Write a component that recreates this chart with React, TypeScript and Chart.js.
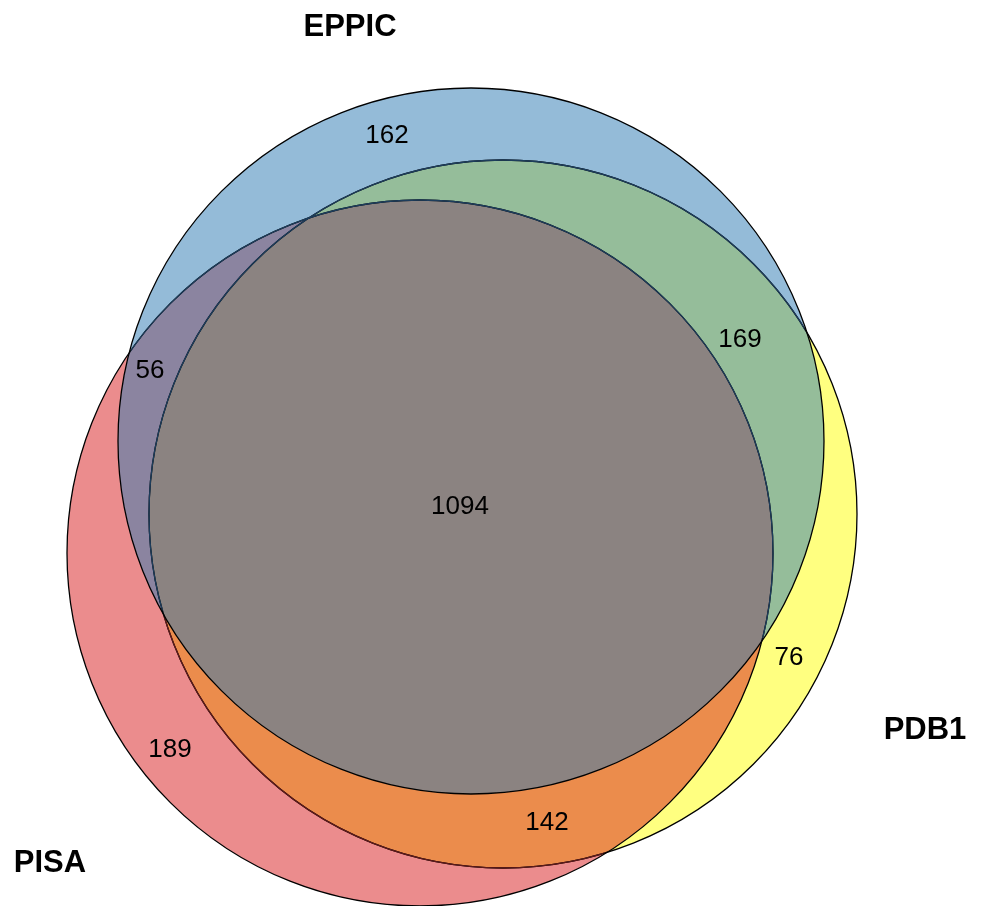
import React, { useEffect, useRef } from "react";
import { Chart, registerables } from "chart.js";

Chart.register(...registerables);

// ---- data ----
const setNames = ["EPPIC", "PISA", "PDB1"];
// region masks: EPPIC=1, PISA=2, PDB1=4
const regionMasks = [1, 2, 4, 3, 5, 6, 7];
const regionCounts = [162, 189, 76, 56, 169, 142, 1094];

// ---- layout (circle geometry in chart units) ----
const circleCX = [471, 420, 503];
const circleCY = [441, 553, 514];
const circleR = [353, 353, 354];
const setLabelX = [350, 50, 925];
const setLabelY = [27, 863, 730];
const regionLabelX = [387, 170, 789, 150, 740, 547, 460];
const regionLabelY = [136, 750, 658, 371, 340, 823, 507];
const regionColors: Record<number, string> = {
  1: "#94bbd8",
  2: "#eb8c8d",
  4: "#ffff80",
  3: "#8b84a0",
  5: "#95bd9a",
  6: "#eb8c4c",
  7: "#8b8381",
};

const W = 984;
const H = 906;

const vennPlugin = {
  id: "venn",
  beforeDatasetsDraw(chart: any) {
    const ctx: CanvasRenderingContext2D = chart.ctx;
    const xs = chart.scales.x;
    const ys = chart.scales.y;
    const circles = circleCX.map((cx, i) => {
      const px = xs.getPixelForValue(cx);
      const py = ys.getPixelForValue(circleCY[i]);
      const r = Math.abs(xs.getPixelForValue(cx + circleR[i]) - px);
      return { px, py, r };
    });
    const big = { x: -10, y: -10, w: chart.width + 20, h: chart.height + 20 };

    const circlePath = (i: number) => {
      const c = circles[i];
      ctx.beginPath();
      ctx.arc(c.px, c.py, c.r, 0, Math.PI * 2);
    };
    const clipIn = (i: number) => {
      circlePath(i);
      ctx.clip();
    };
    const clipOut = (i: number) => {
      const c = circles[i];
      ctx.beginPath();
      ctx.rect(big.x, big.y, big.w, big.h);
      ctx.moveTo(c.px + c.r, c.py);
      ctx.arc(c.px, c.py, c.r, 0, Math.PI * 2);
      ctx.clip("evenodd");
    };

    // fills
    regionMasks.forEach((mask) => {
      ctx.save();
      for (let i = 0; i < 3; i++) {
        if (mask & (1 << i)) clipIn(i);
        else clipOut(i);
      }
      ctx.fillStyle = regionColors[mask];
      ctx.fillRect(big.x, big.y, big.w, big.h);
      ctx.restore();
    });

    // outlines
    ctx.save();
    ctx.lineWidth = 1.3;
    ctx.strokeStyle = "#000";
    for (let i = 0; i < 3; i++) {
      circlePath(i);
      ctx.stroke();
    }
    ctx.restore();

    // inner outlines inside EPPIC appear navy
    ctx.save();
    const e = circles[0];
    ctx.beginPath();
    ctx.arc(e.px, e.py, e.r - 1, 0, Math.PI * 2);
    ctx.clip();
    ctx.lineWidth = 1.3;
    ctx.strokeStyle = "#1d3d5c";
    circlePath(1);
    ctx.stroke();
    circlePath(2);
    ctx.stroke();
    ctx.restore();

    // PDB1 outline inside PISA but outside EPPIC appears dark red
    ctx.save();
    const p = circles[1];
    ctx.beginPath();
    ctx.arc(p.px, p.py, p.r - 1, 0, Math.PI * 2);
    ctx.clip();
    ctx.beginPath();
    ctx.rect(big.x, big.y, big.w, big.h);
    ctx.moveTo(e.px + e.r + 1, e.py);
    ctx.arc(e.px, e.py, e.r + 1, 0, Math.PI * 2);
    ctx.clip("evenodd");
    ctx.lineWidth = 1.3;
    ctx.strokeStyle = "#5e1a1a";
    circlePath(2);
    ctx.stroke();
    ctx.restore();

    // region counts
    ctx.save();
    ctx.fillStyle = "#000";
    ctx.textAlign = "center";
    ctx.textBaseline = "middle";
    ctx.font = "26px 'Liberation Sans', Arial, sans-serif";
    regionCounts.forEach((v, i) => {
      ctx.fillText(
        String(v),
        xs.getPixelForValue(regionLabelX[i]),
        ys.getPixelForValue(regionLabelY[i])
      );
    });
    // set names
    ctx.font = "bold 31px 'Liberation Sans', Arial, sans-serif";
    setNames.forEach((n, i) => {
      ctx.fillText(
        n,
        xs.getPixelForValue(setLabelX[i]),
        ys.getPixelForValue(setLabelY[i])
      );
    });
    ctx.restore();
  },
};

export default function App() {
  const ref = useRef<HTMLCanvasElement | null>(null);
  useEffect(() => {
    document.body.style.margin = "0";
    if (!ref.current) return;
    const chart = new Chart(ref.current, {
      type: "scatter",
      data: {
        datasets: [
          {
            label: "sets",
            data: circleCX.map((x, i) => ({ x, y: circleCY[i] })),
            pointRadius: 0,
            pointHoverRadius: 0,
          },
        ],
      },
      options: {
        animation: false,
        responsive: false,
        maintainAspectRatio: false,
        devicePixelRatio: 1,
        layout: { padding: 0 },
        events: [],
        scales: {
          x: { type: "linear", min: 0, max: W, display: false },
          y: { type: "linear", min: 0, max: H, reverse: true, display: false },
        },
        plugins: {
          legend: { display: false },
          tooltip: { enabled: false },
        },
      },
      plugins: [vennPlugin],
    });
    return () => chart.destroy();
  }, []);
  return (
    <div style={{ width: W, height: H, background: "#fff" }}>
      <canvas ref={ref} width={W} height={H} style={{ display: "block" }} />
    </div>
  );
}
